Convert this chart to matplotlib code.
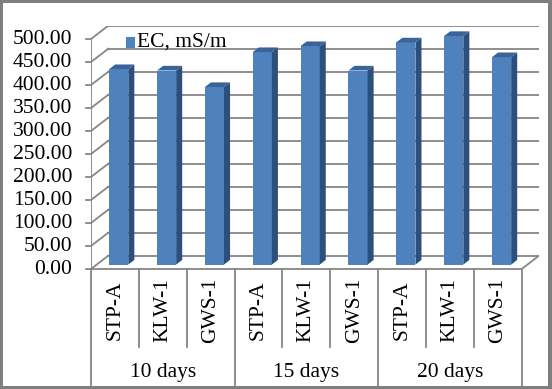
# -*- coding: utf-8 -*-

import matplotlib
matplotlib.use('Agg')
import matplotlib.pyplot as plt
import matplotlib.transforms as mtransforms
from matplotlib.patches import Rectangle, Polygon

groups = ['10 days', '15 days', '20 days']
sites = ['STP-A', 'KLW-1', 'GWS-1']
ec_values = [425, 422, 386, 462, 475, 422, 483, 497, 451]
y_ticks = [0, 50, 100, 150, 200, 250, 300, 350, 400, 450, 500]
series_name = 'EC, mS/m'

W, H = 552, 389
DX, DY = 0.361, 29.0          # depth offset of the back wall, in data units
F0, F1 = 0.33, 0.68           # bar depth range (fraction of full depth)
BW = 0.40                     # bar width
FRONT = '#4F81BD'
SIDE = '#2D4F7C'
TOP = '#3A639A'
GRID = '#868686'
FONT = 'Liberation Serif'
FS = 15.5
LW = 1.3

fig = plt.figure(figsize=(W / 100, H / 100), dpi=100)
fig.patch.set_facecolor('#7F7F7F')
fig.patches.append(Rectangle((3 / W, 3 / H), (548 - 3) / W, (386 - 3) / H,
                             transform=fig.transFigure, facecolor='white',
                             edgecolor='none', zorder=-5))

ax = fig.add_axes([91 / W, (H - 269) / H, (539 - 91) / W, (269 - 25.7) / H])
ax.set_xlim(0, len(ec_values) + DX)
ax.set_ylim(0, y_ticks[-1] + DY)
ax.axis('off')
ax.patch.set_alpha(0)

n = len(ec_values)

# walls / gridlines
for v in y_ticks:
    ax.plot([DX, n + DX], [v + DY, v + DY], color=GRID, lw=LW, zorder=1)
    ax.plot([0, DX], [v, v + DY], color=GRID, lw=LW, zorder=1)
    ax.plot([-0.1, 0], [v, v], color=GRID, lw=LW, zorder=1, clip_on=False)
    ax.text(-0.39, v, '{:.2f}'.format(v), ha='right', va='center',
            family=FONT, fontsize=FS, clip_on=False)
ax.plot([0, 0], [0, y_ticks[-1]], color=GRID, lw=LW, zorder=1)
ax.plot([0, n], [0, 0], color=GRID, lw=LW, zorder=1, clip_on=False)
ax.plot([n, n + DX], [0, DY], color=GRID, lw=LW, zorder=1)

# bars
d0x, d0y = F0 * DX, F0 * DY
ddx, ddy = (F1 - F0) * DX, (F1 - F0) * DY
for i, v in enumerate(ec_values):
    xl = i + 0.46 - BW / 2 + d0x
    xr = xl + BW
    yb, yt = d0y, d0y + v
    ax.add_patch(Rectangle((xl, yb), BW, v, facecolor=FRONT,
                           edgecolor='none', zorder=3))
    ax.add_patch(Polygon([(xr, yb), (xr + ddx, yb + ddy), (xr + ddx, yt + ddy),
                          (xr, yt)], closed=True, facecolor=SIDE,
                         edgecolor='none', zorder=3))
    ax.add_patch(Polygon([(xl, yt), (xr, yt), (xr + ddx, yt + ddy),
                          (xl + ddx, yt + ddy)], closed=True, facecolor=TOP,
                         edgecolor='none', zorder=3))

# category axis (two levels)
trans = mtransforms.blended_transform_factory(ax.transData, fig.transFigure)
y_axis = (H - 269) / H
y_inner = (H - 347) / H
y_bottom = (H - 386) / H
for k in range(n + 1):
    y_end = y_bottom if k % len(sites) == 0 else y_inner
    ax.plot([k, k], [y_axis, y_end], color=GRID, lw=LW, transform=trans,
            clip_on=False)
for i in range(n):
    ax.text(i + 0.5, (H - 310) / H, sites[i % len(sites)], rotation=90,
            ha='center', va='center', family=FONT, fontsize=FS,
            transform=trans)
for g, name in enumerate(groups):
    ax.text(g * len(sites) + len(sites) / 2, (H - 373) / H, name,
            ha='center', va='center', family=FONT, fontsize=FS,
            transform=trans)

# legend
fig.patches.append(Rectangle((126 / W, (H - 47.5) / H), 9 / W, 10 / H,
                             transform=fig.transFigure, facecolor=FRONT,
                             edgecolor='none', zorder=5))
fig.text(137 / W, (H - 42.5) / H, series_name, ha='left', va='center',
         family=FONT, fontsize=FS)

fig.savefig('out.png', dpi=100)
